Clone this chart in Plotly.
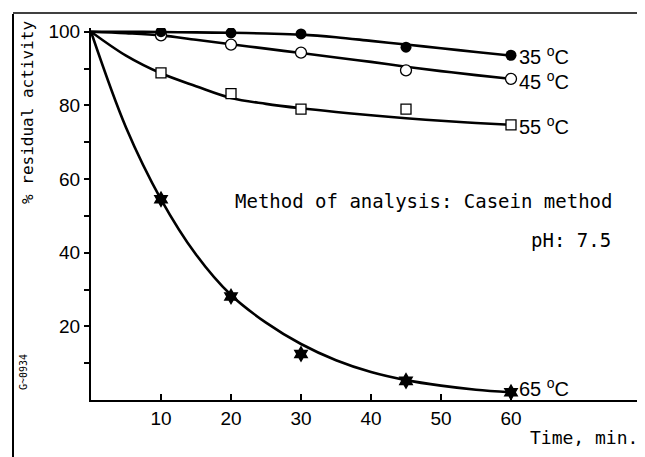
import plotly.graph_objects as go

# Measured points
t_pts = [10, 20, 30, 45, 60]
p35 = [100, 99.7, 99.4, 95.8, 93.6]
p45 = [99.0, 96.5, 94.3, 89.5, 87.2]
p55 = [88.8, 83.2, 79.0, 79.0, 74.7]
p65 = [54.5, 28.1, 12.5, 5.2, 2.1]

# Fitted curves
t_curve = [0, 5, 10, 15, 20, 25, 30, 35, 40, 45, 50, 55, 60]
c35 = [100, 100, 99.9, 99.8, 99.7, 99.5, 99.2, 98.5, 97.5, 96.5, 95.5, 94.5, 93.5]
c45 = [100, 99.6, 99.0, 97.8, 96.6, 95.4, 94.2, 93.0, 91.8, 90.5, 89.3, 88.2, 87.2]
c55 = [100, 93.5, 88.7, 85.2, 82.0, 80.4, 79.2, 78.2, 77.3, 76.5, 75.8, 75.2, 74.7]
c65 = [100, 74.0, 54.5, 39.5, 28.5, 21.0, 15.2, 10.8, 7.6, 5.4, 3.9, 2.8, 2.1]

labels = ["35", "45", "55", "65"]
label_y = [93.5, 86.8, 74.5, 3.5]

x_ticks = [10, 20, 30, 40, 50, 60]
y_ticks = [20, 40, 60, 80, 100]
y_minor_ticks = [10, 30, 50, 70, 90]

mono = "DejaVu Sans Mono"
narrow = "Liberation Sans Narrow, Liberation Sans, Arial, sans-serif"

# page body has an 8px margin: work in screen pixels and shift by OFF
OFF = 8
W, H = 645 - OFF, 457 - OFF
L, T = 91 - OFF, 28 - OFF
B = H - (400 - OFF)
R = 0
pw, ph = W - L - R, H - T - B


def pxx(px):
    return (px - OFF - L) / pw


def pxy(py):
    return (H - B - (py - OFF)) / ph


fig = go.Figure()
for c in [c35, c45, c55, c65]:
    fig.add_trace(go.Scatter(x=t_curve, y=c, mode="lines", line=dict(color="black", width=2.6, shape="spline"),
                             hoverinfo="skip", showlegend=False))

marker_specs = [
    (p65, dict(symbol="hexagram", size=13, color="black")),
    (p55, dict(symbol="square", size=10, color="white", line=dict(color="black", width=1.3))),
    (p45, dict(symbol="circle", size=11, color="white", line=dict(color="black", width=1.3))),
    (p35, dict(symbol="circle", size=11, color="black")),
]
for p, m in marker_specs:
    fig.add_trace(go.Scatter(x=t_pts, y=p, mode="markers", marker=m, showlegend=False))

for lab, ly in zip(labels, label_y):
    fig.add_annotation(x=60.9, y=ly, xref="x", yref="y", text=f"{lab} <sup>o</sup>C", showarrow=False,
                       xanchor="left", yanchor="middle", font=dict(family=narrow, size=20, color="black"))


def free_text(px, py, text, size, family=mono, xanchor="center", angle=0):
    fig.add_annotation(x=pxx(px), y=pxy(py), xref="paper", yref="paper", text=text, showarrow=False,
                       xanchor=xanchor, yanchor="middle", textangle=angle,
                       font=dict(family=family, size=size, color="black"))


free_text(424, 201, "Method of analysis: Casein method", 19)
free_text(613, 240, "pH: 7.5", 19, xanchor="right")
free_text(640, 438, "Time, min.", 18, xanchor="right")
free_text(27, 113, "% residual activity", 16, angle=-90)
free_text(23, 372, "G~0934", 10, angle=-90)

# scan frame lines
fig.add_shape(type="line", xref="paper", yref="paper", x0=pxx(13), x1=pxx(13), y0=pxy(14), y1=pxy(460),
              line=dict(color="black", width=2))
fig.add_shape(type="line", xref="paper", yref="paper", x0=pxx(13), x1=pxx(650), y0=pxy(13), y1=pxy(13),
              line=dict(color="black", width=1.5))

fig.update_layout(
    width=W, height=H, margin=dict(l=L, r=R, t=T, b=B, autoexpand=False),
    paper_bgcolor="white", plot_bgcolor="white", showlegend=False,
    xaxis=dict(range=[0, pw / 7.0], tickvals=x_ticks, ticks="inside", ticklen=6, tickwidth=2, tickcolor="black",
               showline=True, linecolor="black", linewidth=2, showgrid=False, zeroline=False,
               tickfont=dict(family=narrow, size=19, color="black")),
    yaxis=dict(range=[0, 101], tickvals=y_ticks, ticks="outside", ticklen=5, tickwidth=2,
               tickcolor="black", showline=True, linecolor="black", linewidth=2, showgrid=False, zeroline=False,
               tickfont=dict(family=narrow, size=19, color="black"),
               minor=dict(tickvals=y_minor_ticks, ticks="outside", ticklen=5, tickwidth=2, tickcolor="black",
                          showgrid=False)),
)

fig.write_html("out.html")
